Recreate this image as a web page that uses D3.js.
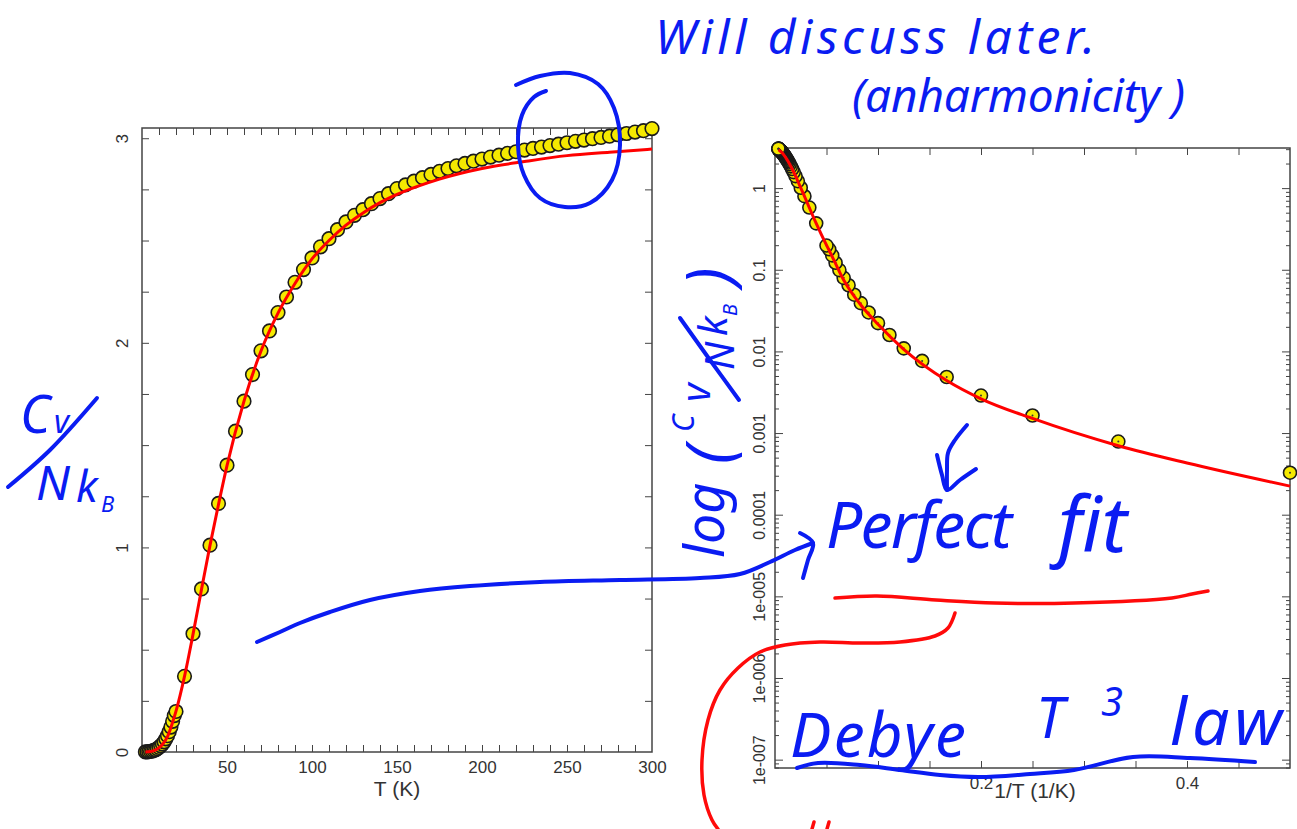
<!DOCTYPE html>
<meta charset="utf-8">
<head>
  <title>Heat capacity - Debye fit</title>
  <script src="https://cdn.jsdelivr.net/npm/d3@7"></script>
  <style>
    body { margin: 0; background: #fff; }
    .tick line { stroke: #444; }
    .domain { stroke: none; }
    .ink { fill: #0a1cf2; font-family: "Noto Sans", "DejaVu Sans", sans-serif; font-style: italic; }
    .pen { fill: none; stroke: #0a1cf2; stroke-width: 4; stroke-linecap: round; stroke-linejoin: round; }
    .pen-red { fill: none; stroke: #ff0a0a; stroke-width: 3.5; stroke-linecap: round; }
  </style>
</head>
<body>
<div id="chart"></div>
<script>
// measured points (temperature in K, Cv / N kB)
var tempK = [2, 3, 4, 5, 6, 7, 8, 9, 10, 11, 12, 13, 14, 15, 16, 17, 18, 19, 20,
  25, 30, 35, 40, 45, 50, 55, 60, 65, 70, 75, 80, 85, 90, 95, 100,
  105, 110, 115, 120, 125, 130, 135, 140, 145, 150, 155, 160, 165, 170, 175, 180,
  185, 190, 195, 200, 205, 210, 215, 220, 225, 230, 235, 240, 245, 250,
  255, 260, 265, 270, 275, 280, 285, 290, 295, 300];
var cvData = [0.000327, 0.000787, 0.00164, 0.00288, 0.00486, 0.00765, 0.0109, 0.0159, 0.0222,
  0.030, 0.039, 0.0495, 0.0646, 0.0796, 0.099, 0.122, 0.150, 0.178, 0.198,
  0.37, 0.578, 0.797, 1.011, 1.215, 1.402, 1.568, 1.715, 1.845, 1.961, 2.058, 2.148, 2.224, 2.296, 2.358, 2.415,
  2.469, 2.509, 2.553, 2.591, 2.623, 2.651, 2.680, 2.705, 2.729, 2.754, 2.772, 2.790, 2.807, 2.823, 2.838, 2.852,
  2.865, 2.877, 2.888, 2.898, 2.908, 2.917, 2.926, 2.934, 2.942, 2.950, 2.957, 2.964, 2.971, 2.978,
  2.985, 2.991, 2.998, 3.004, 3.010, 3.017, 3.023, 3.030, 3.037, 3.047];

// fitted curve (Debye model)
var fitT = [2, 2.5, 3, 4, 5, 6, 8, 10, 12, 15, 18, 20, 25, 30, 35, 40, 45, 50, 60, 70, 80, 90, 100,
  110, 120, 130, 140, 150, 175, 200, 225, 250, 275, 300];
var fitCv = [0.000224, 0.00043, 0.0007, 0.00151, 0.00263, 0.0044, 0.0106, 0.0215, 0.037, 0.075, 0.145, 0.2,
  0.37, 0.575, 0.795, 1.01, 1.21, 1.40, 1.715, 1.96, 2.145, 2.29, 2.41,
  2.50, 2.575, 2.635, 2.685, 2.725, 2.80, 2.852, 2.886, 2.915, 2.932, 2.947];

var leftXTicks = [50, 100, 150, 200, 250, 300];
var leftYTicks = [0, 1, 2, 3];
var rightXTicks = [0.2, 0.4];
var rightYTicks = [1, 0.1, 0.01, 0.001, 0.0001, 1e-5, 1e-6, 1e-7];
var rightYLabels = ["1", "0.1", "0.01", "0.001", "0.0001", "1e-005", "1e-006", "1e-007"];

var labelFont = "'Liberation Sans', Arial, sans-serif";

var svg = d3.select("#chart").append("svg")
  .attr("width", 1297).attr("height", 829);

function styleLabels(sel, size) {
  sel.attr("font-size", size).attr("font-family", labelFont);
  sel.selectAll("text")
    .attr("font-size", size)
    .style("font-family", labelFont).style("font-size", size + "px").style("fill", "#333");
}

// ---------- left panel: Cv vs T ----------
var xL = d3.scaleLinear().domain([0, 300]).range([142, 652]);
var yL = d3.scaleLinear().domain([0, 3.05]).range([752, 128]);

var left = svg.append("g");
left.append("rect").attr("x", 142).attr("y", 128).attr("width", 510).attr("height", 624)
  .attr("fill", "none").attr("stroke", "#444").attr("stroke-width", 1.5);

var minorT = d3.range(10, 300, 10);
left.append("g").attr("transform", "translate(0,752)")
  .call(d3.axisBottom(xL).tickValues(minorT).tickSize(-7).tickFormat(""));
left.append("g").attr("transform", "translate(0,128)")
  .call(d3.axisTop(xL).tickValues(minorT).tickSize(-7).tickFormat(""));
left.append("g").attr("transform", "translate(0,752)")
  .call(d3.axisBottom(xL).tickValues(leftXTicks).tickSize(0).tickPadding(9))
  .call(styleLabels, 17);

var minorC = d3.range(0.25, 3.05, 0.25);
left.append("g").attr("transform", "translate(142,0)")
  .call(d3.axisLeft(yL).tickValues(minorC).tickSize(-7).tickFormat(""));
left.append("g").attr("transform", "translate(652,0)")
  .call(d3.axisRight(yL).tickValues(minorC).tickSize(-7).tickFormat(""));
left.append("g").attr("transform", "translate(142,0)")
  .call(d3.axisLeft(yL).tickValues(leftYTicks).tickSize(0).tickFormat(d3.format("d")))
  .call(styleLabels, 17)
  .selectAll("text")
  .attr("transform", "rotate(-90)").attr("x", 0).attr("y", -14).attr("dy", 0)
  .attr("text-anchor", "middle");

left.append("text").attr("x", 397).attr("y", 796).attr("text-anchor", "middle")
  .style("font-family", labelFont).style("font-size", "21px").style("fill", "#333")
  .text("T (K)");

var pts = tempK.map(function(t, i) { return {t: t, c: cvData[i]}; });
var fit = fitT.map(function(t, i) { return {t: t, c: fitCv[i]}; });

left.selectAll("circle.pt").data(pts).enter().append("circle")
  .attr("class", "pt")
  .attr("cx", function(d) { return xL(d.t); })
  .attr("cy", function(d) { return yL(d.c); })
  .attr("r", 6.8)
  .attr("fill", "#f5e900").attr("stroke", "#1a1a1a").attr("stroke-width", 1.6);

left.append("path").datum(fit)
  .attr("fill", "none").attr("stroke", "#ff0000").attr("stroke-width", 3)
  .attr("d", d3.line().curve(d3.curveMonotoneX)
    .x(function(d) { return xL(d.t); })
    .y(function(d) { return yL(d.c); }));

// ---------- right panel: log Cv vs 1/T ----------
var xR = d3.scaleLinear().domain([0, 0.5]).range([775, 1290]);
var yR = d3.scaleLog().domain([7.9e-8, 3.1]).range([768, 148]);

var right = svg.append("g");
right.append("rect").attr("x", 775).attr("y", 148).attr("width", 515).attr("height", 620)
  .attr("fill", "none").attr("stroke", "#444").attr("stroke-width", 1.5);

var minorU = d3.range(0.05, 0.5, 0.05);
right.append("g").attr("transform", "translate(0,768)")
  .call(d3.axisBottom(xR).tickValues(minorU).tickSize(-7).tickFormat(""));
right.append("g").attr("transform", "translate(0,148)")
  .call(d3.axisTop(xR).tickValues(minorU).tickSize(-7).tickFormat(""));
right.append("g").attr("transform", "translate(0,768)")
  .call(d3.axisBottom(xR).tickValues(rightXTicks).tickSize(0).tickPadding(9).tickFormat(d3.format(".1f")))
  .call(styleLabels, 17);

var logMinor = [];
rightYTicks.concat([1e-8]).forEach(function(dec) {
  for (var k = 2; k <= 9; k++) {
    var v = dec * k;
    if (v > 7.9e-8 && v < 3.1) logMinor.push(v);
  }
});
[["axisLeft", 775], ["axisRight", 1290]].forEach(function(s) {
  right.append("g").attr("transform", "translate(" + s[1] + ",0)")
    .call(d3[s[0]](yR).tickValues(rightYTicks).tickSize(-8).tickFormat(""));
  right.append("g").attr("transform", "translate(" + s[1] + ",0)")
    .call(d3[s[0]](yR).tickValues(logMinor).tickSize(-4).tickFormat(""));
});
right.append("g").attr("transform", "translate(775,0)")
  .call(d3.axisLeft(yR).tickValues(rightYTicks).tickSize(0)
    .tickFormat(function(d, i) { return rightYLabels[i]; }))
  .call(styleLabels, 16)
  .selectAll("text")
  .attr("transform", "rotate(-90)").attr("x", 0).attr("y", -10).attr("dy", 0)
  .attr("text-anchor", "middle");

right.append("text").attr("x", 1035).attr("y", 798).attr("text-anchor", "middle")
  .style("font-family", labelFont).style("font-size", "21px").style("fill", "#333")
  .text("1/T (1/K)");

right.selectAll("circle.pt").data(pts).enter().append("circle")
  .attr("class", "pt")
  .attr("cx", function(d) { return xR(1 / d.t); })
  .attr("cy", function(d) { return yR(d.c); })
  .attr("r", 6.5)
  .attr("fill", "#f5e900").attr("stroke", "#1a1a1a").attr("stroke-width", 1.6);
right.selectAll("circle.dot").data(pts).enter().append("circle")
  .attr("cx", function(d) { return xR(1 / d.t); })
  .attr("cy", function(d) { return yR(d.c); })
  .attr("r", 1).attr("fill", "#333");

var fitInv = fit.slice().sort(function(a, b) { return (1 / a.t) - (1 / b.t); });
right.append("path").datum(fitInv)
  .attr("fill", "none").attr("stroke", "#ff0000").attr("stroke-width", 3)
  .attr("d", d3.line().curve(d3.curveMonotoneX)
    .x(function(d) { return xR(1 / d.t); })
    .y(function(d) { return yR(d.c); }));

// ---------- hand-drawn notes ----------
var notes = svg.append("g");
var pen = d3.line().curve(d3.curveCatmullRom);

function ink(txt, x, y, size, len, g) {
  var t = (g || notes).append("text").attr("class", "ink")
    .attr("x", x).attr("y", y).style("font-size", size + "px").text(txt);
  if (len) t.attr("textLength", len).attr("lengthAdjust", "spacing");
  return t;
}

ink("Will discuss later.", 655, 54, 48, 440);
ink("(anharmonicity )", 852, 112, 46, 333);

// circle around the high-T points
notes.append("path").attr("class", "pen")
  .attr("d", pen([[516, 85], [540, 76], [570, 73], [598, 84], [614, 108], [620, 145], [612, 180],
    [590, 203], [565, 207], [540, 198], [524, 175], [518, 145], [522, 115], [534, 97], [546, 91]]));

// Cv / N kB on the left
ink("C", 20, 433, 52);
ink("v", 54, 433, 32);
notes.append("path").attr("class", "pen").attr("d", pen([[8, 487], [50, 450], [97, 398]]));
ink("N", 36, 500, 48);
ink("k", 76, 502, 44);
ink("B", 101, 512, 22);

// log(Cv/NkB) rotated label
var rl = notes.append("g").attr("transform", "translate(724,560) rotate(-90)");
ink("log", 2, 0, 54, null, rl);
ink("(", 96, 8, 64, null, rl);
ink("C", 128, -30, 30, null, rl);
ink("v", 158, -14, 40, null, rl);
rl.append("path").attr("class", "pen").attr("d", pen([[160, 15], [200, -14], [242, -44]]));
ink("N", 190, 10, 40, null, rl);
ink("k", 224, 3, 40, null, rl);
ink("B", 244, 13, 20, null, rl);
ink(")", 274, 8, 64, null, rl);

// arrow from left panel to "Perfect fit"
notes.append("path").attr("class", "pen")
  .attr("d", pen([[257, 642], [280, 632], [300, 623], [330, 612], [370, 600], [420, 591], [470, 586],
    [540, 582], [620, 580], [700, 578], [740, 574], [770, 562], [795, 550], [813, 543]]));
notes.append("path").attr("class", "pen")
  .attr("d", pen([[800, 533], [813, 543], [808, 560], [803, 578]]));

ink("Perfect", 826, 548, 64, 186);
ink("fit", 1058, 552, 76);

// small down arrow
notes.append("path").attr("class", "pen")
  .attr("d", pen([[967, 425], [955, 440], [948, 453], [947, 470], [947, 490]]));
notes.append("path").attr("class", "pen")
  .attr("d", pen([[937, 455], [942, 475], [947, 490], [960, 480], [976, 469]]));

// red underline and red hook
notes.append("path").attr("class", "pen-red")
  .attr("d", pen([[835, 598], [877, 596], [936, 600], [995, 603], [1074, 603], [1172, 598], [1192, 594], [1208, 591]]));
notes.append("path").attr("class", "pen-red")
  .attr("d", pen([[955, 613], [948, 628], [935, 636], [900, 642], [860, 643], [820, 642], [785, 645],
    [760, 652], [738, 668], [720, 690], [708, 720], [702, 760], [704, 795], [712, 820], [718, 829]]));
notes.append("path").attr("class", "pen-red").attr("d", pen([[812, 829], [814, 822]]));
notes.append("path").attr("class", "pen-red").attr("d", pen([[827, 829], [829, 822]]));

ink("Debye", 790, 757, 62, 176);
ink("T", 1036, 738, 56);
ink("3", 1101, 716, 40);
ink("law", 1170, 745, 66, 112);
notes.append("path").attr("class", "pen")
  .attr("d", pen([[797, 768], [818, 763], [860, 765], [900, 770], [940, 775], [979, 777], [1030, 774],
    [1074, 770], [1133, 757], [1190, 758], [1255, 762]]));
</script>
</body>
</html>
